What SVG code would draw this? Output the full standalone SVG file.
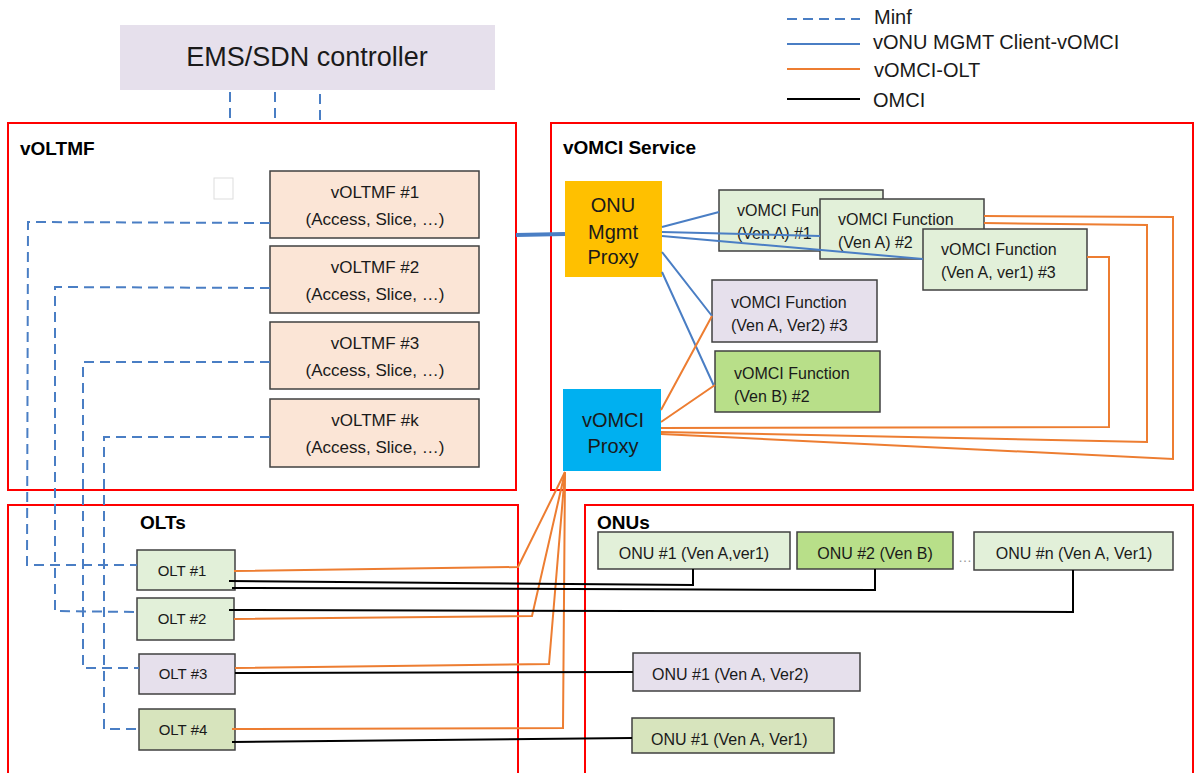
<svg xmlns="http://www.w3.org/2000/svg" width="1195" height="773" viewBox="0 0 1195 773">
<style>
text{font-family:"Liberation Sans",Arial,sans-serif;fill:#1a1a1a}
.ctr{fill:none;stroke:#ff0000;stroke-width:2}
.ttl{font-weight:bold;font-size:19px;fill:#000}
.box{stroke:#404040;stroke-width:1.5}
.peach{fill:#fbe5d6}
.lav{fill:#e6e0ec}
.lg{fill:#e2f0d9}
.bg{fill:#b8df89}
.og{fill:#d7e4bd}
.t17{font-size:17px;text-anchor:middle}
.t16{font-size:16px}
.t15{font-size:15px;text-anchor:middle}
.mid{text-anchor:middle}
.minf{fill:none;stroke:#4a7ec4;stroke-width:2;stroke-dasharray:10 6}
.vonu{fill:none;stroke:#4a7ec4;stroke-width:2}
.volt{fill:none;stroke:#ed7d31;stroke-width:2}
.omci{fill:none;stroke:#000;stroke-width:2}
.leg{font-size:20px}
</style>

<g id="legend">
<line x1="787" y1="19" x2="860" y2="19" class="minf"/>
<line x1="787" y1="44" x2="860" y2="44" class="vonu"/>
<line x1="787" y1="69" x2="860" y2="69" class="volt"/>
<line x1="787" y1="99" x2="860" y2="99" class="omci"/>
<text x="874" y="24" class="leg">Minf</text>
<text x="873" y="49" class="leg">vONU MGMT Client-vOMCI</text>
<text x="874" y="77" class="leg">vOMCI-OLT</text>
<text x="873" y="107" class="leg">OMCI</text>
</g>

<g id="containers">
<g id="vOLTMF"><rect x="8" y="123" width="508" height="367" class="ctr"/><text x="20" y="155" class="ttl">vOLTMF</text></g>
<g id="vOMCI-Service"><rect x="551" y="123" width="642" height="367" class="ctr"/><text x="563" y="154" class="ttl">vOMCI Service</text></g>
<g id="OLTs"><rect x="8" y="505" width="510" height="280" class="ctr"/><text x="140" y="529" class="ttl">OLTs</text></g>
<g id="ONUs"><rect x="585" y="505" width="608" height="280" class="ctr"/><text x="597" y="529" class="ttl">ONUs</text></g>
</g>

<g id="ems"><rect x="120" y="25" width="375" height="65" fill="#e6e0ec"/><text x="307" y="66" class="mid" style="font-size:27px">EMS/SDN controller</text></g>

<rect id="blank" x="214" y="178" width="19" height="21" fill="#fff" stroke="#dddddd" stroke-width="1"/>

<g id="vOLTMF1"><rect x="270" y="171" width="209" height="67" class="box peach"/><text x="375" y="198" class="t17">vOLTMF #1</text><text x="375" y="225" class="t17">(Access, Slice, …)</text></g>
<g id="vOLTMF2"><rect x="270" y="246" width="209" height="67" class="box peach"/><text x="375" y="273" class="t17">vOLTMF #2</text><text x="375" y="300" class="t17">(Access, Slice, …)</text></g>
<g id="vOLTMF3"><rect x="270" y="322" width="209" height="67" class="box peach"/><text x="375" y="349" class="t17">vOLTMF #3</text><text x="375" y="376" class="t17">(Access, Slice, …)</text></g>
<g id="vOLTMFk"><rect x="270" y="399" width="209" height="68" class="box peach"/><text x="375" y="426" class="t17">vOLTMF #k</text><text x="375" y="453" class="t17">(Access, Slice, …)</text></g>

<g id="onu-mgmt-proxy"><rect x="565" y="181" width="97" height="96" fill="#ffc000"/><text x="613" y="212" class="mid" style="font-size:20px">ONU</text><text x="613" y="239" class="mid" style="font-size:20px">Mgmt</text><text x="613" y="264" class="mid" style="font-size:20px">Proxy</text></g>
<g id="vomci-proxy"><rect x="563" y="389" width="98" height="82" fill="#00b0f0"/><text x="613" y="427" class="mid" style="font-size:20px">vOMCI</text><text x="613" y="453" class="mid" style="font-size:20px">Proxy</text></g>

<g id="fn1"><rect x="719" y="190" width="164" height="61" class="box lg"/><text x="737" y="216" class="t16">vOMCI Function</text><text x="737" y="239" class="t16">(Ven A) #1</text></g>
<g id="fn2"><rect x="820" y="199" width="164" height="60" class="box lg"/><text x="838" y="225" class="t16">vOMCI Function</text><text x="838" y="248" class="t16">(Ven A) #2</text></g>
<g id="fn3"><rect x="923" y="229" width="164" height="61" class="box lg"/><text x="941" y="255" class="t16">vOMCI Function</text><text x="941" y="278" class="t16">(Ven A, ver1) #3</text></g>
<g id="fn4"><rect x="712" y="280" width="165" height="62" class="box lav"/><text x="731" y="308" class="t16">vOMCI Function</text><text x="731" y="331" class="t16">(Ven A, Ver2) #3</text></g>
<g id="fn5"><rect x="715" y="351" width="165" height="61" class="box bg"/><text x="734" y="379" class="t16">vOMCI Function</text><text x="734" y="402" class="t16">(Ven B) #2</text></g>

<g id="olt1"><rect x="137" y="550" width="98" height="40" class="box lg"/><text x="182" y="576" class="t15">OLT #1</text></g>
<g id="olt2"><rect x="137" y="598" width="97" height="42" class="box lg"/><text x="182" y="624" class="t15">OLT #2</text></g>
<g id="olt3"><rect x="139" y="654" width="96" height="40" class="box lav"/><text x="183" y="679" class="t15">OLT #3</text></g>
<g id="olt4"><rect x="139" y="709" width="96" height="41" class="box og"/><text x="183" y="735" class="t15">OLT #4</text></g>

<g id="onu1"><rect x="598" y="532" width="192" height="37" class="box lg"/><text x="694" y="559" class="t16 mid">ONU #1 (Ven A,ver1)</text></g>
<g id="onu2"><rect x="797" y="532" width="156" height="37" class="box bg"/><text x="875" y="559" class="t16 mid">ONU #2 (Ven B)</text></g>
<text x="965" y="562" class="mid" style="font-size:14px;fill:#999">…</text>
<g id="onun"><rect x="974" y="532" width="199" height="38" class="box lg"/><text x="1074" y="559" class="t16 mid">ONU #n (Ven A, Ver1)</text></g>
<g id="onu-ver2"><rect x="633" y="653" width="227" height="38" class="box lav"/><text x="652" y="680" class="t16">ONU #1 (Ven A, Ver2)</text></g>
<g id="onu-ver1"><rect x="632" y="718" width="202" height="35" class="box og"/><text x="651" y="745" class="t16">ONU #1 (Ven A, Ver1)</text></g>

<g id="connectors">
<path class="minf" d="M230,92V122M275,92V122M320,94V122"/>
<path class="minf" d="M270,223L28,222L27,565L137,565"/>
<path class="minf" d="M270,288L55,287L55,611L137,612"/>
<path class="minf" d="M270,362L83,362L83,668L139,668"/>
<path class="minf" d="M270,437L104,437L104,729L139,729"/>
<line x1="516" y1="235" x2="565" y2="234" stroke="#4a7ec4" stroke-width="4"/>
<path class="vonu" d="M662,227L719,212M662,232L820,236M662,236L923,259M662,252L712,316M662,272L714,386"/>
<path class="volt" d="M661,410L712,316M661,422L715,385"/>
<path class="volt" d="M661,428L1109,427L1109,257L1087,257"/>
<path class="volt" d="M661,432L1147,442L1147,225L984,223"/>
<path class="volt" d="M661,434L1173,459L1173,217L984,216"/>
<path class="volt" d="M234,571L518,567L565,472"/>
<path class="volt" d="M234,619L532,616L565,472"/>
<path class="volt" d="M235,668L549,664L565,472"/>
<path class="volt" d="M232,729L563,728L565,472"/>
<path class="omci" d="M229,581L693,585L693,569"/>
<path class="omci" d="M232,588L875,590L875,569"/>
<path class="omci" d="M229,610L1073,612L1073,570"/>
<path class="omci" d="M235,673L633,672"/>
<path class="omci" d="M232,742L632,738"/>
</g>
</svg>
